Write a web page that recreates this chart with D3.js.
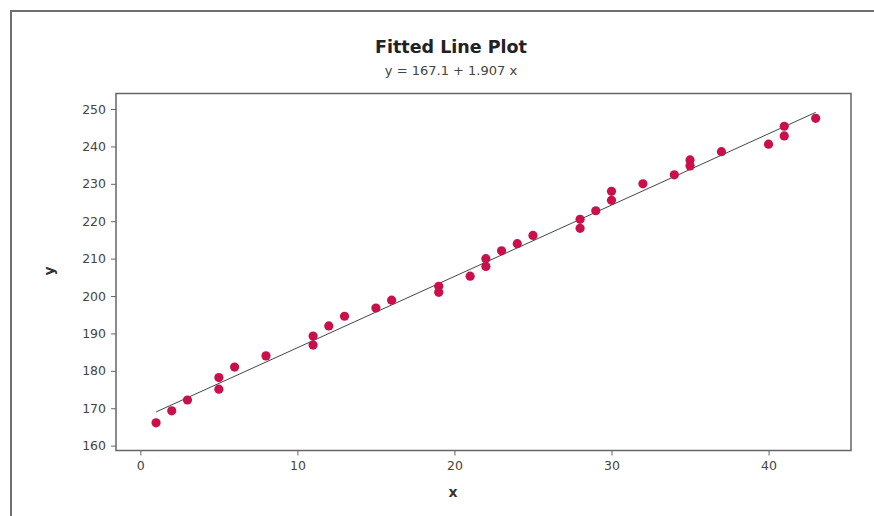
<!DOCTYPE html>
<html>
<head>
<meta charset="utf-8">
<script src="https://cdn.jsdelivr.net/npm/d3@7"></script>
<style>
  body { margin: 0; background: #fff; }
  text { font-family: "DejaVu Sans", Verdana, sans-serif; }
</style>
</head>
<body>
<script>
var xs = [1, 2, 3, 5, 5, 6, 8, 11, 11, 12, 13, 15, 16, 19, 19, 21, 22, 22, 23, 24, 25,
          28, 28, 29, 30, 30, 32, 34, 35, 35, 37, 40, 41, 41, 43];
var ys = [166.1, 169.3, 172.2, 178.2, 175.1, 181.0, 184.0, 189.3, 186.9, 192.0, 194.6, 196.8, 198.9,
          202.6, 201.0, 205.3, 210.0, 207.9, 212.1, 214.0, 216.2, 220.5, 218.1, 222.8, 228.0, 225.6,
          230.0, 232.4, 236.4, 234.8, 238.6, 240.6, 245.4, 242.8, 247.5];
var xTicks = [0, 10, 20, 30, 40];
var yTicks = [160, 170, 180, 190, 200, 210, 220, 230, 240, 250];
var intercept = 167.1, slope = 1.907;

var W = 874, H = 516;
var plotL = 116, plotR = 851, plotT = 93.5, plotB = 450.5;

var svg = d3.select('body')
    .append('svg')
    .attr('width', W)
    .attr('height', H);

// outer frame (only top and left edges show)
svg.append('path')
    .attr('d', 'M11,' + H + 'V11H' + W)
    .style('fill', 'none')
    .style('stroke', '#707070')
    .style('stroke-width', 2);

var x = d3.scaleLinear().domain([-1.55, 45.25]).range([plotL, plotR]);
var y = d3.scaleLinear().domain([158.7, 254.15]).range([plotB, plotT]);

// axes
var xAxis = svg.append('g')
    .attr('transform', 'translate(0,' + plotB + ')')
    .call(d3.axisBottom(x).tickValues(xTicks).tickSize(5).tickPadding(6));
var yAxis = svg.append('g')
    .attr('transform', 'translate(' + plotL + ',0)')
    .call(d3.axisLeft(y).tickValues(yTicks).tickSize(5).tickPadding(5));

[xAxis, yAxis].forEach(function(a) {
    a.select('.domain').remove();
    a.selectAll('line').style('stroke', '#666');
    a.selectAll('text')
        .style('font-size', '12.5px')
        .style('fill', '#444')
        .style('font-family', '"DejaVu Sans", Verdana, sans-serif');
});

// plot box
svg.append('rect')
    .attr('x', plotL)
    .attr('y', plotT)
    .attr('width', plotR - plotL)
    .attr('height', plotB - plotT)
    .style('fill', 'none')
    .style('stroke', '#666')
    .style('stroke-width', 1.5);

// fitted line
var x0 = d3.min(xs), x1 = d3.max(xs);
svg.append('line')
    .attr('x1', x(x0))
    .attr('y1', y(intercept + slope * x0))
    .attr('x2', x(x1))
    .attr('y2', y(intercept + slope * x1))
    .style('stroke', '#3f4a46')
    .style('stroke-width', 1);

// points
svg.selectAll('circle.pt')
    .data(xs.map(function(v, i) { return { x: v, y: ys[i] }; }))
    .enter()
    .append('circle')
    .attr('class', 'pt')
    .attr('cx', function(d) { return x(d.x); })
    .attr('cy', function(d) { return y(d.y); })
    .attr('r', 4.6)
    .style('fill', '#c9104b');

// titles
svg.append('text')
    .attr('x', 451)
    .attr('y', 53)
    .attr('text-anchor', 'middle')
    .style('font-size', '17.5px')
    .style('font-weight', 'bold')
    .style('fill', '#222')
    .text('Fitted Line Plot');

svg.append('text')
    .attr('x', 451)
    .attr('y', 75)
    .attr('text-anchor', 'middle')
    .style('font-size', '13px')
    .style('fill', '#444')
    .text('y =  167.1 + 1.907 x');

svg.append('text')
    .attr('x', 453)
    .attr('y', 497)
    .attr('text-anchor', 'middle')
    .style('font-size', '14px')
    .style('font-weight', 'bold')
    .style('fill', '#333')
    .text('x');

svg.append('text')
    .attr('transform', 'translate(54,271) rotate(-90)')
    .attr('text-anchor', 'middle')
    .style('font-size', '14px')
    .style('font-weight', 'bold')
    .style('fill', '#333')
    .text('y');
</script>
</body>
</html>
